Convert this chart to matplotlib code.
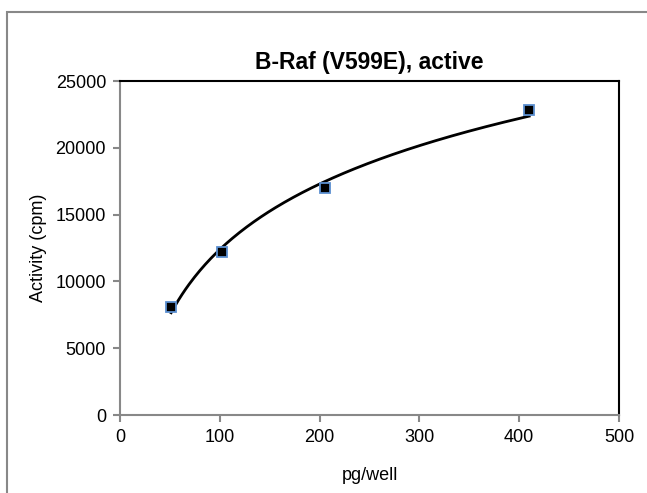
import numpy as np
import matplotlib
matplotlib.use("Agg")
from matplotlib import pyplot as plt
from matplotlib.patches import Rectangle

plt.rcParams["font.family"] = ["Liberation Sans", "DejaVu Sans"]

# data
amount = [51.25, 102.5, 205, 410]
activity = [8050, 12200, 17000, 22800]
title = "B-Raf (V599E), active"
x_ticks = [0, 100, 200, 300, 400, 500]
y_ticks = [0, 5000, 10000, 15000, 20000, 25000]

fig = plt.figure(figsize=(6.47, 4.93), dpi=100)
ax = fig.add_axes([120 / 647, 1 - 415 / 493, 499 / 647, 334 / 493])

# outer chart frame
fig.patches.append(Rectangle((7 / 647, -0.1), 1.0, 1 - 12 / 493 + 0.1,
                             transform=fig.transFigure, fill=False,
                             edgecolor="#888888", linewidth=1.5))

# logarithmic trendline
a, b = np.polyfit(np.log(amount), activity, 1)
xs = np.linspace(min(amount), max(amount), 200)
ax.plot(xs, a * np.log(xs) + b, color="black", linewidth=2, zorder=2)

ax.plot(amount, activity, linestyle="none", marker="s", markersize=7,
        markerfacecolor="black", markeredgecolor="#5b8fd0", markeredgewidth=1.3,
        zorder=3)

ax.set_xlim(0, 500)
ax.set_ylim(0, 25000)
ax.set_xticks(x_ticks)
ax.set_yticks(y_ticks)
ax.tick_params(labelsize=13, color="#888888", width=1.5, length=5, pad=5)
for side in ["left", "bottom"]:
    ax.spines[side].set_color("#888888")
    ax.spines[side].set_linewidth(1.5)
for side in ["top", "right"]:
    ax.spines[side].set_color("black")
    ax.spines[side].set_linewidth(1.5)

ax.set_title(title, fontsize=16.5, fontweight="bold", pad=9)
ax.set_xlabel("pg/well", fontsize=13, labelpad=15)
ax.set_ylabel("Activity (cpm)", fontsize=13, labelpad=6)

fig.savefig("out.png", dpi=100)
